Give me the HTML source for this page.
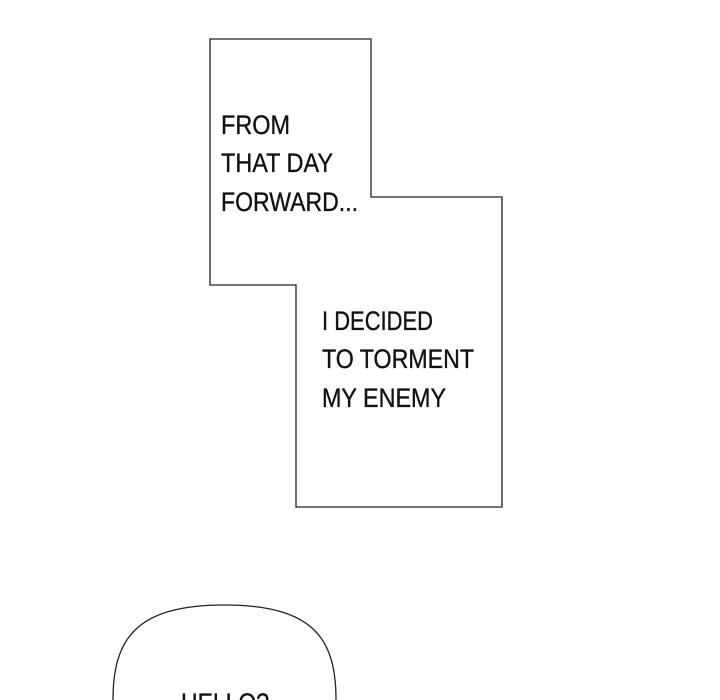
<!DOCTYPE html>
<html><head><style>html,body{margin:0;padding:0;background:#fff;}svg{display:block}</style></head>
<body>
<svg width="720" height="700" viewBox="0 0 720 700" xmlns="http://www.w3.org/2000/svg">
<rect width="720" height="700" fill="#fff"/>
<polygon points="210,39 371,39 371,197 502,197 502,507 296,507 296,285 210,285" fill="#fff" stroke="#222" stroke-width="1.3"/>
<g font-family="Liberation Sans, sans-serif" font-size="27" fill="#111" stroke="#111" stroke-width="0.35">
<text x="221" y="134" textLength="69" lengthAdjust="spacingAndGlyphs">FROM</text>
<text x="221" y="172" textLength="112" lengthAdjust="spacingAndGlyphs">THAT DAY</text>
<text x="221" y="211" textLength="137" lengthAdjust="spacingAndGlyphs">FORWARD...</text>
<text x="322" y="330" textLength="111" lengthAdjust="spacingAndGlyphs">I DECIDED</text>
<text x="322" y="368" textLength="152" lengthAdjust="spacingAndGlyphs">TO TORMENT</text>
<text x="322" y="407" textLength="124" lengthAdjust="spacingAndGlyphs">MY ENEMY</text>
</g>
<path d="M113,700 C113,640 135,605 224,605 C315,605 336,640 336,700" fill="#fff" stroke="#222" stroke-width="1.3"/>
<text x="181" y="712" font-family="Liberation Sans, sans-serif" font-size="27" fill="#111" stroke="#111" stroke-width="0.35" textLength="88" lengthAdjust="spacingAndGlyphs">HELLO?</text>
</svg>
</body></html>
